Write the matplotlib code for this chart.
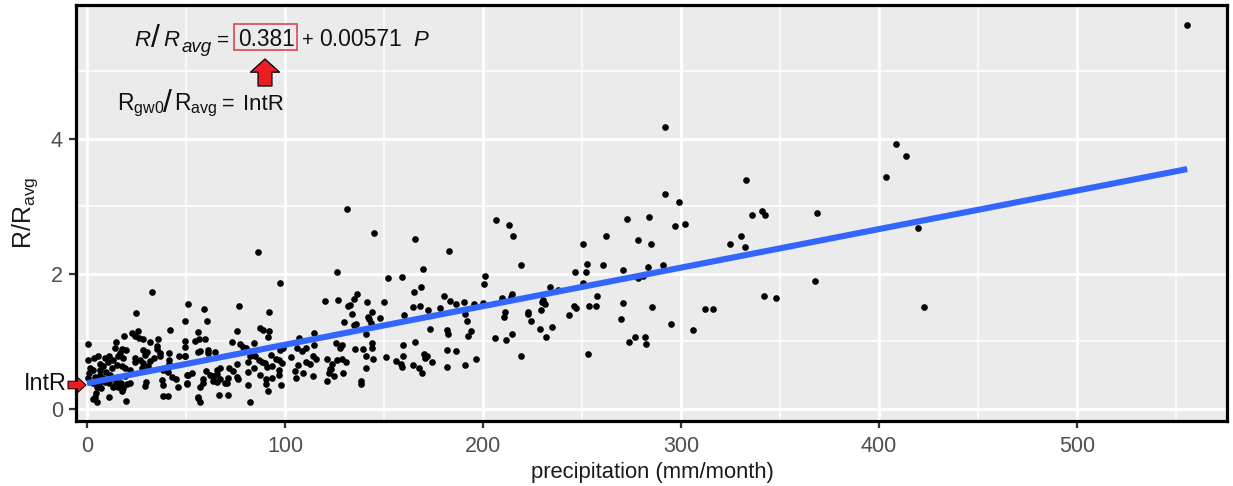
import matplotlib
matplotlib.use('Agg')
from matplotlib import pyplot as plt
from matplotlib.patches import Rectangle

plt.rcParams['font.family'] = ['Liberation Sans', 'DejaVu Sans']
plt.rcParams['mathtext.fontset'] = 'custom'
plt.rcParams['mathtext.rm'] = 'Liberation Sans'
plt.rcParams['mathtext.it'] = 'Liberation Sans:italic'
plt.rcParams['mathtext.default'] = 'regular'

intercept = 0.381
slope = 0.00571
line_x = [0, 555.7]

# upper scatter
precip_high = [555.7, 292, 292, 299, 297, 302, 291, 295, 306, 312, 316, 333, 325, 330.5, 332.5, 336, 341, 342.6,
               342, 348, 368.7, 367.5, 403.7, 408.4, 413.8, 419.7, 423,
               206.4, 213.3, 215.3, 219.2, 250.7, 262.1, 272.9, 283.8, 278.1, 284.8, 252.4, 260.8, 246.5, 251.9,
               270.9, 283.5, 250.5, 233.8, 238, 278.5, 281, 209.6, 214, 214.6, 257.4, 229.6, 230.1, 231.5, 229.1,
               246.1, 246.8, 253.5, 257.2, 270.7, 285.5, 243.4, 211.1, 210.6, 222.6, 222.6, 224.2, 269.5, 234.8,
               228.8, 231.6, 214.5, 205.9, 211.4, 273.7, 276.6, 281.8, 282.3, 219.2, 253.2]
ratio_high = [5.69, 4.18, 3.18, 3.07, 2.71, 2.74, 2.14, 1.26, 1.17, 1.48, 1.48, 3.39, 2.45, 2.56, 2.40, 2.88, 2.93, 2.87,
              1.67, 1.64, 2.91, 1.90, 3.44, 3.92, 3.75, 2.68, 1.51,
              2.80, 2.73, 2.57, 2.14, 2.44, 2.57, 2.81, 2.84, 2.51, 2.44, 2.15, 2.14, 2.03, 2.03,
              2.06, 2.10, 1.87, 1.81, 1.76, 1.94, 1.97, 1.64, 1.66, 1.71, 1.68, 1.59, 1.62, 1.56, 1.46,
              1.53, 1.50, 1.52, 1.52, 1.57, 1.51, 1.39, 1.43, 1.36, 1.44, 1.41, 1.30, 1.34, 1.22,
              1.18, 1.06, 1.11, 1.05, 1.02, 0.99, 1.06, 1.06, 0.96, 0.79, 0.82]

# 120-205 mm/month
precip_mid = [131.3, 145, 183, 165.7, 126.4, 152.2, 158.9, 169.5, 168.7, 165.3, 201, 200.4, 180.5, 183.3, 186.4, 190.4,
              195.3, 200, 136.5, 134.8, 132.8, 132, 126.8, 141.4, 150, 164.6, 168, 172.4, 178.4, 133.8, 144.1,
              141.9, 142.6, 143.6, 147.8, 160.1, 130, 135.9, 134.8, 190.9, 191.8, 141, 173.4, 181.7, 182.1, 193.9,
              192.4, 125.9, 127.8, 128.6, 135.5, 139.2, 143.8, 143.8, 159.8, 165.7, 182, 186.2, 141, 144.6, 151,
              159.4, 156.2, 158.7, 159.2, 164.5, 167.5, 169, 170, 170.7, 171.9, 174.2, 181.7, 190.9, 196.3,
              126.4, 128.6, 130.8, 122.7, 124.9, 129.3, 140.9, 138.2, 138.2]
ratio_mid = [2.96, 2.60, 2.34, 2.52, 2.03, 1.94, 1.96, 2.08, 1.80, 1.74, 1.97, 1.85, 1.68, 1.60, 1.56, 1.59,
             1.55, 1.57, 1.71, 1.63, 1.54, 1.52, 1.61, 1.58, 1.58, 1.51, 1.52, 1.46, 1.49, 1.41, 1.43,
             1.36, 1.33, 1.28, 1.35, 1.39, 1.29, 1.26, 1.24, 1.41, 1.30, 1.11, 1.18, 1.17, 1.11, 1.15,
             1.08, 0.98, 0.91, 0.95, 0.89, 0.89, 0.98, 0.90, 0.95, 0.99, 0.87, 0.86, 0.79, 0.74, 0.77,
             0.79, 0.71, 0.67, 0.62, 0.65, 0.60, 0.53, 0.82, 0.76, 0.78, 0.70, 0.62, 0.65, 0.74,
             0.73, 0.74, 0.70, 0.59, 0.49, 0.54, 0.61, 0.42, 0.37]

# 50-125 mm/month
precip_low = [86.4, 97.5, 120.2, 50.9, 59.1, 76.9, 91.9, 60.5, 49.5, 75.8, 56.2, 87.5, 89, 91.8, 91.6, 54.5, 56.6, 59.8, 49.5,
              73, 77.3, 84.5, 78.9, 80.3, 49.5, 61, 61, 57.1, 55.9, 64.6, 49.5, 82.5, 84.8, 93.1, 97.6, 99.1,
              107.2, 114.8, 114.8, 105.9, 108.4, 110.5, 103.2, 114.3, 115.7, 121, 81.5, 86.7, 88.5, 90, 95.5,
              97, 98.3, 91.1, 93.3, 106.4, 110.8, 112.8, 123.6, 75.6, 71.6, 73.9, 67.2, 65.5, 60, 52.9, 50.9,
              62.1, 64.1, 65.8, 81.5, 84.5, 87.2, 96.8, 96.8, 90.4, 93.3, 90.4, 98, 104.9, 105.6, 109.1, 114.3,
              121.4, 122.4, 123.1, 58.4, 58.7, 57.1, 62.9, 63.7, 65.5, 67.2, 71.4, 70.9, 69.7, 75.6, 76.4, 81.5,
              50.4, 56.2, 57.1, 56, 66.5, 71, 82.3, 91.6]
ratio_low = [2.33, 1.86, 1.60, 1.56, 1.48, 1.52, 1.43, 1.30, 1.31, 1.16, 1.14, 1.20, 1.17, 1.15, 1.07, 1.01, 1.04, 1.03, 1.01,
             0.99, 0.97, 0.98, 0.92, 0.91, 0.92, 0.87, 0.83, 0.86, 0.84, 0.84, 0.79, 0.78, 0.79, 0.80, 0.87, 0.91,
             1.05, 1.13, 0.95, 0.90, 0.86, 0.91, 0.77, 0.79, 0.74, 0.74, 0.70, 0.72, 0.70, 0.68, 0.74,
             0.72, 0.68, 0.62, 0.63, 0.65, 0.69, 0.67, 0.66, 0.67, 0.60, 0.57, 0.60, 0.58, 0.57, 0.54, 0.50,
             0.50, 0.49, 0.52, 0.55, 0.60, 0.51, 0.58, 0.50, 0.45, 0.46, 0.37, 0.36, 0.57, 0.46, 0.54, 0.49,
             0.42, 0.54, 0.59, 0.45, 0.39, 0.33, 0.49, 0.42, 0.40, 0.45, 0.46, 0.39, 0.38, 0.47, 0.44, 0.36,
             0.37, 0.16, 0.11, 0.18, 0.21, 0.21, 0.10, 0.27]

# dense cluster near zero
precip_dense = [0.5, 42, 18.7, 22.6, 25.6, 24.2, 26.4, 28.4, 31.7, 36, 35.5, 35.2, 14.6, 14.1, 17.5, 19.7, 16.7, 15.8,
                28.4, 30.1, 29.3, 36.9, 41.6, 46.6, 49.5, 5.7, 3.5, 0.7, 11.3, 9.1, 10.8, 13.3, 18.3, 24.2, 24.2,
                26.8, 28.4, 31.8, 33.8, 36.9, 41.6, 41.6, 6.6, 8.2, 1.5, 2.9, 1.2, 6.6, 9.6, 12.5, 15, 17.5, 19.2,
                21.7, 31, 27.6, 38.6, 41.1, 42.8, 44.9, 50.3, 50.3, 0.7, 4, 6.6, 8.2, 11.6, 13.3, 15.8, 19.2,
                3.2, 6.2, 9.1, 11.3, 14.6, 17, 20, 21.7, 29.3, 29.8, 37.7, 38.2, 46.1, 4.9, 6.9, 13.3, 15.8, 18.3,
                17.5, 4.5, 4, 2.9, 5.2, 11, 19.7, 38.2, 40.9, 32.8, 24.7]
ratio_dense = [0.97, 1.17, 1.08, 1.13, 1.16, 1.08, 1.05, 1.03, 0.99, 1.04, 0.94, 0.89, 0.99, 0.91, 0.89, 0.87, 0.83, 0.78,
               0.87, 0.85, 0.80, 0.83, 0.83, 0.79, 0.78, 0.79, 0.76, 0.73, 0.78, 0.75, 0.70, 0.73, 0.75, 0.75, 0.69,
               0.73, 0.68, 0.71, 0.75, 0.78, 0.73, 0.66, 0.66, 0.63, 0.60, 0.58, 0.53, 0.58, 0.55, 0.60, 0.65, 0.63, 0.60,
               0.58, 0.63, 0.60, 0.58, 0.55, 0.48, 0.44, 0.50, 0.38, 0.46, 0.48, 0.50, 0.46, 0.50, 0.46, 0.48, 0.49,
               0.39, 0.39, 0.40, 0.39, 0.39, 0.38, 0.37, 0.39, 0.34, 0.40, 0.43, 0.36, 0.32, 0.33, 0.31, 0.33, 0.32, 0.31,
               0.26, 0.23, 0.18, 0.15, 0.10, 0.18, 0.12, 0.19, 0.19, 1.73, 1.42]

precip = precip_high + precip_mid + precip_low + precip_dense
ratio = ratio_high + ratio_mid + ratio_low + ratio_dense

x_ticks = [0, 100, 200, 300, 400, 500]
y_ticks = [0, 2, 4]
x_minor = [50, 150, 250, 350, 450, 550]
y_minor = [1, 3, 5]

W, H = 1233, 486
fig = plt.figure(figsize=(W / 100, H / 100), dpi=100)
ax = fig.add_axes([76 / W, (H - 421) / H, 1151 / W, 416 / H])
ax.set_facecolor('#EBEBEB')
ax.set_xlim(-5.55, 575.8)
ax.set_ylim(-0.178, 5.985)
ax.set_axisbelow(True)

ax.set_xticks(x_ticks)
ax.set_yticks(y_ticks)
ax.set_xticks(x_minor, minor=True)
ax.set_yticks(y_minor, minor=True)
ax.grid(which='major', color='white', lw=2.0)
ax.grid(which='minor', color='white', lw=1.1)
ax.tick_params(which='minor', length=0)
ax.tick_params(which='major', length=5, width=1.6, color='#333333', labelcolor='#4d4d4d', labelsize=15.5)
ax.tick_params(axis='x', which='major', pad=6)
ax.tick_params(axis='y', which='major', pad=4.5)
for s in ax.spines.values():
    s.set_linewidth(2.3)
    s.set_color('black')

ax.scatter(precip, ratio, s=23, c='black', linewidths=0, zorder=3)
line_y = [intercept + slope * v for v in line_x]
ax.plot(line_x, line_y, color='#3366FF', lw=4.4, solid_capstyle='butt', zorder=4)

fig.text(652 / W, 1 - 472 / H, 'precipitation (mm/month)', ha='center', va='center', fontsize=15.8, color='#1a1a1a')
fig.text(25 / W, 1 - 213 / H, r'R/R$_{avg}$', ha='center', va='center', rotation=90, fontsize=18, color='#1a1a1a')


def label(px, py, txt, size=16, **kw):
    fig.text(px / W, 1 - py / H, txt, fontsize=size, color='#111111', va='baseline', zorder=6, **kw)


# regression equation
label(134, 46, 'R', style='italic')
label(151, 47, '/', size=23)
label(163, 46, 'R', style='italic')
label(182, 52, 'avg', size=13.5, style='italic')
label(217, 46, '=', size=15)
label(238, 46, '0.381', size=16.3)
fig.add_artist(Rectangle((234 / W, 1 - 50 / H), 62.5 / W, 25.5 / H, transform=fig.transFigure,
                         fill=False, ec='#e2434f', lw=1.2))
label(302, 46, '+', size=14.5)
label(319, 46, '0.00571', size=16.5)
label(413, 46, 'P', size=16, style='italic')

# second equation
label(117, 110, r'R$_{gw0}$', size=16.5)
label(163, 112, '/', size=23)
label(174, 110, r'R$_{avg}$', size=16.5)
label(222, 110, '=', size=15.5)
label(243, 110, 'IntR', size=16)
label(24, 390, 'IntR', size=16.8)

# arrows, positions in axes fraction
ax.annotate('', xy=(265 / W, 1 - 59 / H), xytext=(265 / W, 1 - 86 / H), xycoords='figure fraction',
            textcoords='figure fraction',
            arrowprops=dict(fc='#ED1C24', ec='black', lw=0.9, width=10, headwidth=21, headlength=9.5, shrink=0))
ax.annotate('', xy=(86 / W, 1 - 385 / H), xytext=(68 / W, 1 - 385 / H), xycoords='figure fraction',
            textcoords='figure fraction', annotation_clip=False,
            arrowprops=dict(fc='#ED1C24', ec='black', lw=0.7, width=5.5, headwidth=11, headlength=6, shrink=0))

fig.savefig('out.png', dpi=100)
